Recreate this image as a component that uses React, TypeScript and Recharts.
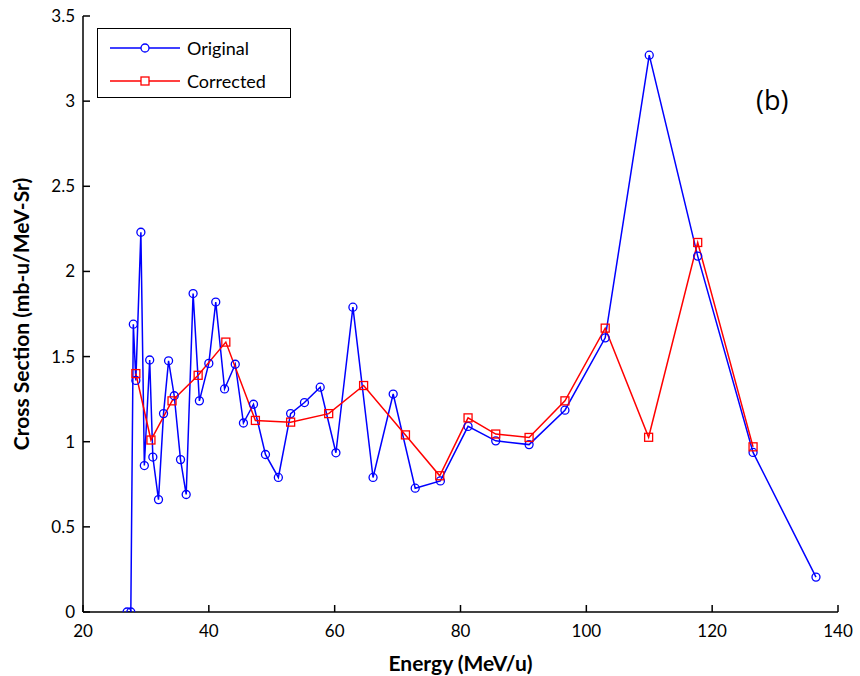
import { LineChart, Line, XAxis, YAxis } from "recharts";

// ---------------------------------------------------------------------------
// Data
// ---------------------------------------------------------------------------
const originalEnergy = [
  27.0, 27.6, 28.0, 28.4, 29.2, 29.75, 30.6, 31.1, 32.0, 32.8, 33.6, 34.5,
  35.5, 36.4, 37.5, 38.5, 40.0, 41.1, 42.5, 44.2, 45.5, 47.1, 49.0, 51.05,
  53.0, 55.2, 57.7, 60.2, 62.9, 66.1, 69.3, 72.8, 76.8, 81.2, 85.6, 90.9,
  96.6, 103.0, 110.0, 117.7, 126.5, 136.5,
];
const originalValues = [
  0, 0, 1.69, 1.36, 2.23, 0.86, 1.48, 0.91, 0.66, 1.165, 1.475, 1.27, 0.895,
  0.69, 1.87, 1.24, 1.46, 1.82, 1.31, 1.455, 1.11, 1.22, 0.925, 0.79, 1.165,
  1.23, 1.32, 0.935, 1.79, 0.79, 1.28, 0.727, 0.77, 1.09, 1.005, 0.983, 1.185,
  1.61, 3.27, 2.09, 0.937, 0.205,
];

const correctedEnergy = [
  28.4, 30.8, 34.15, 38.3, 42.7, 47.4, 53.0, 59.05, 64.6, 71.25, 76.7, 81.2,
  85.6, 90.9, 96.6, 103.0, 109.9, 117.7, 126.5,
];
const correctedValues = [
  1.4, 1.01, 1.24, 1.39, 1.585, 1.125, 1.115, 1.165, 1.33, 1.04, 0.8, 1.14,
  1.045, 1.025, 1.24, 1.667, 1.026, 2.17, 0.97,
];

const xTicks = [20, 40, 60, 80, 100, 120, 140];
const yTicks = [0, 0.5, 1, 1.5, 2, 2.5, 3, 3.5];

const originalData = originalEnergy.map((x, i) => ({ x, y: originalValues[i] }));
const correctedData = correctedEnergy.map((x, i) => ({ x, y: correctedValues[i] }));

const FONT = "Lato, 'Open Sans', sans-serif";
const BLUE = "#0000FF";
const RED = "#FF0000";

// ---------------------------------------------------------------------------
// Markers
// ---------------------------------------------------------------------------
function CircleDot(props: any) {
  const { cx, cy, index } = props;
  if (cx == null || cy == null) return null;
  return (
    <circle key={`o-${index}`} cx={cx} cy={cy} r={4} stroke={BLUE} strokeWidth={1.3} fill="none" />
  );
}

function SquareDot(props: any) {
  const { cx, cy, index } = props;
  if (cx == null || cy == null) return null;
  return (
    <rect
      key={`c-${index}`}
      x={cx - 4}
      y={cy - 4}
      width={8}
      height={8}
      stroke={RED}
      strokeWidth={1.3}
      fill="none"
    />
  );
}

// ---------------------------------------------------------------------------
// Legend box (drawn over the chart, top-left of the plot)
// ---------------------------------------------------------------------------
function LegendBox() {
  const row = (color: string, label: string, square: boolean) => (
    <div style={{ display: "flex", alignItems: "center", height: 33 }}>
      <svg width={80} height={14} style={{ marginLeft: 12 }}>
        <line x1={0} y1={7} x2={70} y2={7} stroke={color} strokeWidth={1.5} />
        {square ? (
          <rect x={31} y={3} width={8} height={8} stroke={color} fill="white" strokeWidth={1.3} />
        ) : (
          <circle cx={35} cy={7} r={4} stroke={color} fill="white" strokeWidth={1.3} />
        )}
      </svg>
      <span style={{ fontFamily: FONT, fontSize: 18, color: "#000", marginLeft: -3 }}>{label}</span>
    </div>
  );
  return (
    <div
      style={{
        position: "absolute",
        left: 97,
        top: 28,
        width: 194,
        height: 70,
        border: "1.5px solid #000",
        background: "#fff",
        boxSizing: "border-box",
        paddingTop: 2,
      }}
    >
      {row(BLUE, "Original", false)}
      {row(RED, "Corrected", true)}
    </div>
  );
}

// ---------------------------------------------------------------------------
// Component
// ---------------------------------------------------------------------------
export default function App() {
  return (
    <div style={{ position: "absolute", left: 0, top: 0, width: 860, height: 676, background: "#fff" }}>
      <LineChart
        width={860}
        height={676}
        margin={{ top: 16, right: 22, left: 0, bottom: 0 }}
      >
        <XAxis
          type="number"
          dataKey="x"
          domain={[20, 140]}
          ticks={xTicks}
          allowDataOverflow
          height={64}
          tickSize={-7}
          tickMargin={20}
          tick={{ fontSize: 17, fill: "#000", fontFamily: FONT }}
          axisLine={{ stroke: "#000", strokeWidth: 1.5 }}
          tickLine={{ stroke: "#000", strokeWidth: 1.5 }}
          label={{
            value: "Energy (MeV/u)",
            position: "insideBottom",
            offset: 5,
            style: { fontSize: 21, fontWeight: 700, fill: "#000", fontFamily: FONT },
          }}
        />
        <YAxis
          type="number"
          dataKey="y"
          domain={[0, 3.5]}
          ticks={yTicks}
          allowDataOverflow
          width={83}
          tickSize={-7}
          tickMargin={15}
          tick={{ fontSize: 17, fill: "#000", fontFamily: FONT }}
          axisLine={{ stroke: "#000", strokeWidth: 1.5 }}
          tickLine={{ stroke: "#000", strokeWidth: 1.5 }}
          label={{
            value: "Cross Section (mb-u/MeV-Sr)",
            angle: -90,
            position: "insideLeft",
            offset: 22,
            style: { textAnchor: "middle", fontSize: 21, fontWeight: 700, fill: "#000", fontFamily: FONT },
          }}
        />
        <Line
          name="Original"
          data={originalData}
          dataKey="y"
          type="linear"
          stroke={BLUE}
          strokeWidth={1.5}
          dot={CircleDot}
          activeDot={false}
          isAnimationActive={false}
        />
        <Line
          name="Corrected"
          data={correctedData}
          dataKey="y"
          type="linear"
          stroke={RED}
          strokeWidth={1.5}
          dot={SquareDot}
          activeDot={false}
          isAnimationActive={false}
        />
      </LineChart>
      <LegendBox />
      <div
        style={{
          position: "absolute",
          left: 756,
          top: 81,
          fontFamily: "'Open Sans', sans-serif",
          fontSize: 27,
          color: "#000",
        }}
      >
        (b)
      </div>
    </div>
  );
}
